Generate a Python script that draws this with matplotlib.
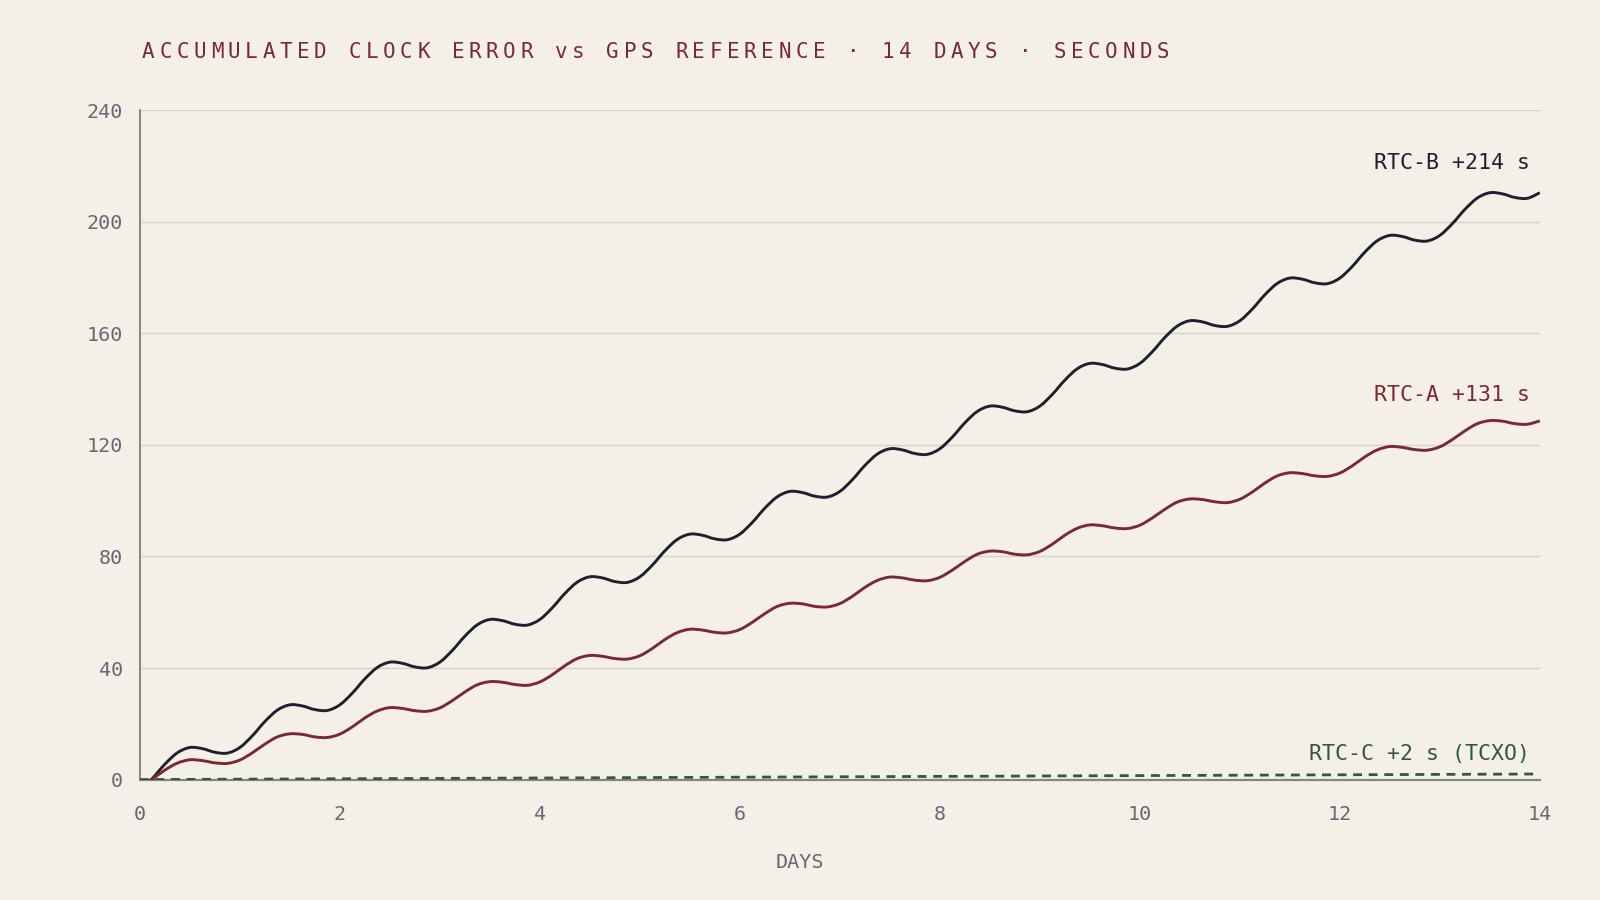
import matplotlib
matplotlib.use("Agg")
import matplotlib.pyplot as plt
from matplotlib.path import Path
from matplotlib.patches import PathPatch
import numpy as np

rtc_b = [
    -3.8, 0.4, 5.5, 9.6, 11.5, 11.1, 9.8, 9.5,
    11.5, 15.7, 20.8, 24.9, 26.8, 26.4, 25.1, 24.8,
    26.8, 31.0, 36.1, 40.2, 42.1, 41.7, 40.4, 40.1,
    42.1, 46.3, 51.4, 55.5, 57.4, 57.0, 55.7, 55.4,
    57.4, 61.6, 66.7, 70.8, 72.7, 72.3, 71.0, 70.7,
    72.7, 76.9, 82.0, 86.1, 88.0, 87.6, 86.3, 86.0,
    88.0, 92.2, 97.3, 101.4, 103.3, 102.9, 101.6, 101.3,
    103.3, 107.5, 112.6, 116.7, 118.6, 118.2, 116.9, 116.6,
    118.6, 122.8, 127.9, 132.0, 133.9, 133.5, 132.2, 131.9,
    133.9, 138.1, 143.2, 147.3, 149.2, 148.8, 147.5, 147.2,
    149.2, 153.4, 158.5, 162.6, 164.5, 164.1, 162.8, 162.5,
    164.5, 168.7, 173.8, 177.9, 179.8, 179.4, 178.1, 177.8,
    179.8, 184.0, 189.1, 193.2, 195.1, 194.7, 193.4, 193.1,
    195.1, 199.3, 204.4, 208.5, 210.4, 210.0, 208.7, 208.4,
    210.4,
]
rtc_a = [
    -2.4, 0.2, 3.4, 5.9, 7.1, 6.8, 6.0, 5.8,
    7.0, 9.6, 12.7, 15.3, 16.4, 16.2, 15.3, 15.1,
    16.3, 18.9, 22.1, 24.6, 25.8, 25.5, 24.7, 24.5,
    25.7, 28.3, 31.4, 34.0, 35.1, 34.9, 34.1, 33.8,
    35.0, 37.6, 40.8, 43.4, 44.5, 44.2, 43.4, 43.2,
    44.4, 47.0, 50.2, 52.7, 53.9, 53.6, 52.8, 52.6,
    53.8, 56.4, 59.5, 62.1, 63.2, 63.0, 62.1, 61.9,
    63.1, 65.7, 68.9, 71.4, 72.6, 72.3, 71.5, 71.3,
    72.5, 75.1, 78.2, 80.8, 81.9, 81.7, 80.8, 80.6,
    81.8, 84.4, 87.6, 90.1, 91.3, 91.0, 90.2, 90.0,
    91.2, 93.8, 96.9, 99.5, 100.6, 100.4, 99.6, 99.3,
    100.5, 103.1, 106.3, 108.9, 110.0, 109.7, 108.9, 108.7,
    109.9, 112.5, 115.7, 118.2, 119.4, 119.1, 118.3, 118.1,
    119.3, 121.9, 125.0, 127.6, 128.7, 128.5, 127.6, 127.4,
    128.6,
]
days_c = list(range(15))
rtc_c = [0.0, 0.14, 0.29, 0.43, 0.57, 0.71, 0.86, 1.0, 1.14, 1.29, 1.43, 1.57, 1.71, 1.86, 2.0]

labels = ["RTC-B +214 s", "RTC-A +131 s", "RTC-C +2 s (TCXO)"]
drift_total = [214, 131, 2]
title = "ACCUMULATED CLOCK ERROR vs GPS REFERENCE · 14 DAYS · SECONDS"
x_ticks = [0, 2, 4, 6, 8, 10, 12, 14]
y_ticks = [0, 40, 80, 120, 160, 200, 240]

days = np.linspace(0, 14, len(rtc_b))

BG = "#f5f0e7"
NAVY = "#1c2131"
MAROON = "#7a2a2f"
GREEN = "#2f5a3b"
GREY = "#676878"
MONO = ["DejaVu Sans Mono", "DejaVu Sans"]

plt.rcParams["font.family"] = MONO


def smooth_path(x, y):
    # catmull-rom through the sampled points, drawn as cubic beziers
    x = np.asarray(x, float)
    y = np.asarray(y, float)
    px = np.concatenate([[x[0]], x, [x[-1]]])
    py = np.concatenate([[y[0]], y, [y[-1]]])
    verts = [(x[0], y[0])]
    codes = [Path.MOVETO]
    for i in range(1, len(px) - 2):
        c1 = (px[i] + (px[i + 1] - px[i - 1]) / 6, py[i] + (py[i + 1] - py[i - 1]) / 6)
        c2 = (px[i + 1] - (px[i + 2] - px[i]) / 6, py[i + 1] - (py[i + 2] - py[i]) / 6)
        verts += [c1, c2, (px[i + 1], py[i + 1])]
        codes += [Path.CURVE4] * 3
    return Path(verts, codes)


fig = plt.figure(figsize=(16, 9), dpi=100, facecolor=BG)
ax = fig.add_axes([0.0874, 0.1338, 0.875, 0.7438], facecolor=BG)

for ys, col in [(rtc_b, NAVY), (rtc_a, MAROON)]:
    ax.add_patch(PathPatch(smooth_path(days, ys), fill=False, edgecolor=col,
                           lw=2.1, joinstyle="round", capstyle="butt", zorder=3))
ax.plot(days_c, rtc_c, color=GREEN, lw=2.0, dashes=(3.2, 2.4), zorder=3)

colors = [NAVY, MAROON, GREEN]
for lab, v, c in zip(labels, drift_total, colors):
    ax.text(13.9, v + 7.0, lab, color=c, fontsize=15.5, ha="right", va="center")

ax.set_xlim(0, 14)
ax.set_ylim(0, 240)
ax.set_xticks(x_ticks)
ax.set_yticks(y_ticks)
ax.yaxis.grid(True, color="#d6d2c7", lw=1.0)
ax.set_axisbelow(True)
ax.tick_params(axis="both", length=0, labelsize=14.5, labelcolor=GREY)
ax.tick_params(axis="x", pad=18.5)
ax.tick_params(axis="y", pad=12)

for s in ["top", "right"]:
    ax.spines[s].set_visible(False)
ax.spines["left"].set_color("#77756e")
ax.spines["left"].set_linewidth(1.2)
ax.spines["bottom"].set_color("#8a8579")
ax.spines["bottom"].set_linewidth(1.6)

fig.text(0.5, 0.0414, "DAYS", color=GREY, fontsize=14.5, ha="center", va="center")

# letter-spaced title: one glyph per monospace cell, 17.2 px pitch
for i, ch in enumerate(title):
    if ch == " ":
        continue
    fig.text((148.3 + i * 17.2) / 1600, 0.9422, ch, color=MAROON, fontsize=15,
             ha="center", va="center")

fig.savefig("out.png", dpi=100, facecolor=BG)
